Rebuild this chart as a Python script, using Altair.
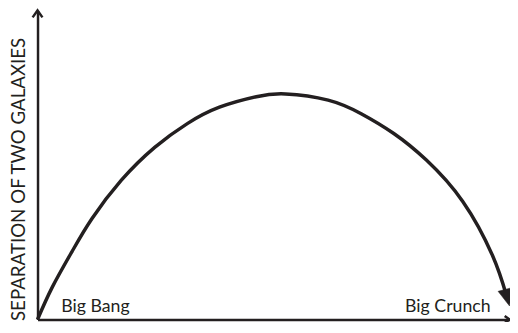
import altair as alt
import pandas as pd

# Curve: time (0-100) vs separation (0-100)
time = [0, 3.1, 7.3, 11.5, 17.7, 24.8, 31.7, 38.5, 46.3, 52.5, 61.5, 68.5, 75.4, 82.3, 90.0, 96.3, 99.2]
separation = [0, 10.4, 22.0, 32.6, 45.0, 55.7, 63.4, 68.7, 72.1, 73.0, 71.0, 66.6, 60.2, 51.6, 38.2, 20.7, 8.0]

# Arrow tip at the end of the curve
tip_time = [99.9]
tip_sep = [4.4]

# Labels
label_text = ["Big Bang", "Big Crunch"]
label_time = [5.0, 77.8]
label_sep = [2.3, 2.6]

INK = "#231f20"
FONT = "Lato"

curve_df = pd.DataFrame({"t": time, "s": separation})
tip_df = pd.DataFrame({"t": tip_time, "s": tip_sep})
label_df = pd.DataFrame({"t": label_time, "s": label_sep, "label": label_text})
yarrow_df = pd.DataFrame({"t": [0], "s": [100]})
xarrow_df = pd.DataFrame({"t": [99.9], "s": [0]})

xscale = alt.Scale(domain=[0, 100], nice=False, zero=False)
yscale = alt.Scale(domain=[0, 100], nice=False, zero=False)

xenc = alt.X("t:Q", scale=xscale, axis=alt.Axis(
    title="", ticks=False, labels=False, grid=False,
    domainColor=INK, domainWidth=2.5))
yenc = alt.Y("s:Q", scale=yscale, axis=alt.Axis(
    title="SEPARATION OF TWO GALAXIES", ticks=False, labels=False, grid=False,
    domainColor=INK, domainWidth=2.5,
    titleFont=FONT, titleFontSize=19, titleFontWeight="normal", titleColor=INK,
    titleAngle=270, titleAlign="left", titleBaseline="alphabetic",
    titleX=-13, titleY=315))

curve = alt.Chart(curve_df).mark_line(
    color=INK, strokeWidth=3.5, interpolate="natural", strokeCap="butt"
).encode(x=xenc, y=yenc)

tip = alt.Chart(tip_df).mark_point(
    shape="M0,0 L-0.85,-2 L0.85,-2 Z", filled=True, fill=INK, stroke=INK,
    strokeWidth=0.5, size=300, angle=345, opacity=1
).encode(x=alt.X("t:Q", scale=xscale), y=alt.Y("s:Q", scale=yscale))

yarrow = alt.Chart(yarrow_df).mark_point(
    shape="M-1,1.4 L0,0 L1,1.4", filled=False, stroke=INK, strokeWidth=2.5,
    size=100, opacity=1, strokeJoin="miter"
).encode(x=alt.X("t:Q", scale=xscale), y=alt.Y("s:Q", scale=yscale))

xarrow = alt.Chart(xarrow_df).mark_point(
    shape="M-1.4,-1 L0,0 L-1.4,1", filled=False, stroke=INK, strokeWidth=2.5,
    size=49, opacity=1, strokeJoin="miter"
).encode(x=alt.X("t:Q", scale=xscale), y=alt.Y("s:Q", scale=yscale))

labels = alt.Chart(label_df).mark_text(
    font=FONT, fontSize=18, color=INK, align="left", baseline="alphabetic"
).encode(x=alt.X("t:Q", scale=xscale), y=alt.Y("s:Q", scale=yscale), text="label:N")

chart = alt.layer(curve, tip, yarrow, xarrow, labels).properties(
    width=480, height=314, autosize="none",
    padding={"left": 30, "top": 0, "right": 0, "bottom": 0},
    background="white"
).configure_view(stroke=None)

chart.save("out.html", embed_options={"renderer": "svg", "actions": False})
